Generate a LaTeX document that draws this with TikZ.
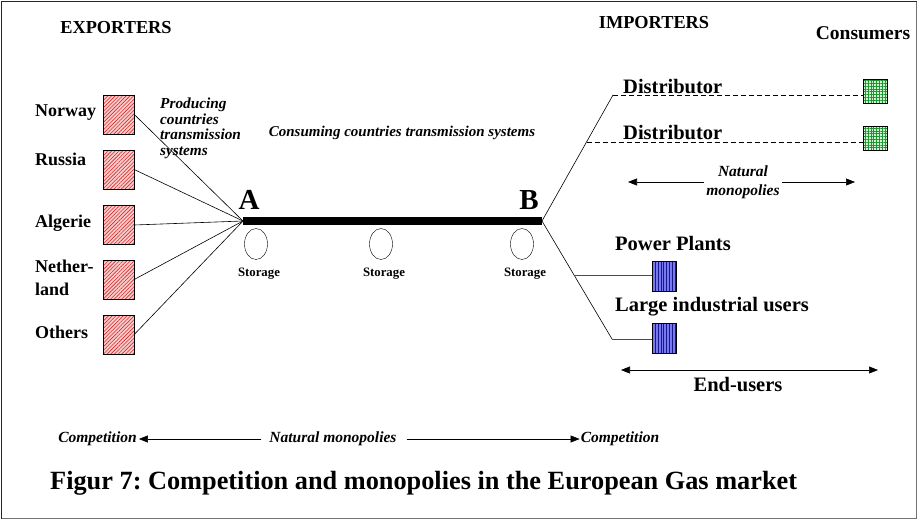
\documentclass[tikz,border=0pt]{standalone}
\usepackage{fontspec}
\setmainfont{Liberation Serif}
\usetikzlibrary{patterns.meta,arrows.meta,calc,shapes.geometric}
\definecolor{hatchred}{RGB}{215,40,40}
\definecolor{pinkbg}{RGB}{250,205,205}
\definecolor{gridgreen}{RGB}{30,150,50}
\definecolor{greenbg}{RGB}{210,245,210}
\definecolor{bluebg}{RGB}{120,120,245}
\definecolor{blueline}{RGB}{25,25,130}
\frenchspacing
\tikzset{
  fs/.style={font=\fontsize{#1}{#1}\selectfont\bfseries},
  fsi/.style={font=\fontsize{#1}{#1}\selectfont\bfseries\itshape},
  redbox/.style={draw, inner sep=0, minimum width=31, minimum height=39,
     preaction={fill=pinkbg}, pattern={Lines[angle=45,distance=2.6pt,line width=0.6pt]}, pattern color=hatchred},
  greenbox/.style={draw, inner sep=0, minimum width=24, minimum height=24,
     preaction={fill=greenbg}, pattern={Hatch[angle=0,distance=2.8pt,line width=0.5pt]}, pattern color=gridgreen},
  bluebox/.style={draw, inner sep=0, minimum width=24, minimum height=30,
     preaction={fill=bluebg}, pattern={Lines[angle=90,distance=2.8pt,line width=0.6pt]}, pattern color=blueline},
  store/.style={draw, ellipse, inner sep=0, minimum width=23, minimum height=31},
  feed/.style={line width=0.6pt},
  arr/.style={line width=0.6pt, -{Triangle[length=9,width=7]}},
  lbl/.style={inner sep=0},
}
\begin{document}
\begin{tikzpicture}[x=1pt,y=-1pt]
\useasboundingbox (0,0) rectangle (918,520);
% frame
\draw[line width=1.2pt, black!85] (1.5,518.5) -- (1.5,1.5) -- (916.5,1.5);
\draw[line width=1.2pt, black!55] (916.5,1.5) -- (916.5,518.5) -- (1.5,518.5);

% headers
\node[fs=18.3, lbl] (exp) at (116,28) {EXPORTERS};
\node[fs=18.3, lbl] (imp) at (654,23) {IMPORTERS};
\node[fs=19.5, lbl] (cons) at (863,33) {Consumers};

% exporter boxes
\node[redbox] (no) at (118.5,114.5) {};
\node[redbox] (ru) at (118.5,169.5) {};
\node[redbox] (al) at (118.5,225) {};
\node[redbox] (ne) at (118.5,279.5) {};
\node[redbox] (ot) at (118.5,334.5) {};

\node[fs=18, lbl, anchor=west] (lno) at (35,113) {Norway};
\node[fs=18, lbl, anchor=west] (lru) at (35,159) {Russia};
\node[fs=18, lbl, anchor=west] (lal) at (35,223) {Algerie};
\node[fs=18, lbl, anchor=north west, align=left, font=\fontsize{18}{23}\selectfont\bfseries] (lne) at (35,260) {Nether-\\land};
\node[fs=18, lbl, anchor=west] (lot) at (35,332) {Others};

\node[lbl, anchor=north west, align=left, font=\fontsize{15.3}{15.5}\selectfont\bfseries\itshape] (prod) at (160,98) {Producing\\countries\\transmission\\systems};

% main line
\coordinate (A) at (243,221);
\coordinate (B) at (542,221);
\draw[line width=8pt] (A) -- (B);
\node[fs=29, lbl] (lA) at (249,200) {A};
\node[fs=29, lbl] (lB) at (529,200) {B};

\foreach \b in {no,ru,al,ne,ot} \draw[feed] (\b.east) -- (A);

\node[fsi=15, lbl] (consum) at (402,133) {Consuming countries transmission systems};

% storage
\node[store] (s1) at (256,244) {};
\node[store] (s2) at (381,244) {};
\node[store] (s3) at (522,244) {};
\node[fs=12.8, lbl] (ls1) at (259,274) {Storage};
\node[fs=12.8, lbl] (ls2) at (384,274) {Storage};
\node[fs=12.8, lbl] (ls3) at (525,274) {Storage};

% importers upper
\coordinate (d1) at (613,95);
\coordinate (d2) at ($(B)!0.627!(d1)$);
\node[greenbox] (g1) at (875,91) {};
\node[greenbox] (g2) at (875,138.5) {};
\draw[feed] (B) -- (d1);
\draw[feed, dash pattern=on 5pt off 3pt] (d1) -- (d1 -| g1.west);
\draw[feed, dash pattern=on 5pt off 3pt] (d2) -- (d2 -| g2.west);
\node[fs=20.5, lbl, anchor=west] (dist1) at (623,87) {Distributor};
\node[fs=20.5, lbl, anchor=west] (dist2) at (623,133) {Distributor};

\node[lbl, align=center, font=\fontsize{15.5}{19}\selectfont\bfseries\itshape] (nm1) at (743,182.5) {Natural\\monopolies};
\coordinate (nmL) at (628,182);
\coordinate (nmR) at (855,182);
\draw[arr] (nm1.west |- nmL) ++(-2,0) -- (nmL);
\draw[arr] (nm1.east |- nmR) ++(2,0) -- (nmR);

% importers lower
\coordinate (p2) at (612,339);
\coordinate (p1) at ($(B)!0.458!(p2)$);
\node[bluebox] (b1) at (664,276) {};
\node[bluebox] (b2) at (664,338.5) {};
\draw[feed] (B) -- (p2);
\draw[feed, black!70] (p1) -- (p1 -| b1.west);
\draw[feed, black!70] (p2) -- (p2 -| b2.west);
\node[fs=20.5, lbl, anchor=west] (pp) at (615,243) {Power Plants};
\node[fs=20.5, lbl, anchor=west] (liu) at (615,307) {Large industrial users};

\coordinate (euL) at (621,370);
\coordinate (euR) at (878,370);
\draw[line width=0.6pt, {Triangle[length=9,width=7]}-{Triangle[length=9,width=7]}] (euL) -- (euR);
\node[fs=20.5, lbl] (eu) at (738,385) {End-users};

% bottom
\node[fsi=15.5, lbl] (c1) at (97.5,439) {Competition};
\node[fsi=15.5, lbl] (nm2) at (333,439) {Natural monopolies};
\node[fsi=15.5, lbl] (c2) at (620,439) {Competition};
\draw[arr] ($(nm2.west)+(-8,0)$) -- ($(c1.east)+(2,0)$);
\draw[arr] ($(nm2.east)+(10,0)$) -- ($(c2.west)+(-1,0)$);

\node[fs=26.3, lbl, anchor=west] (title) at (50,483) {Figur 7: Competition and monopolies in the European Gas market};
\end{tikzpicture}
\end{document}
